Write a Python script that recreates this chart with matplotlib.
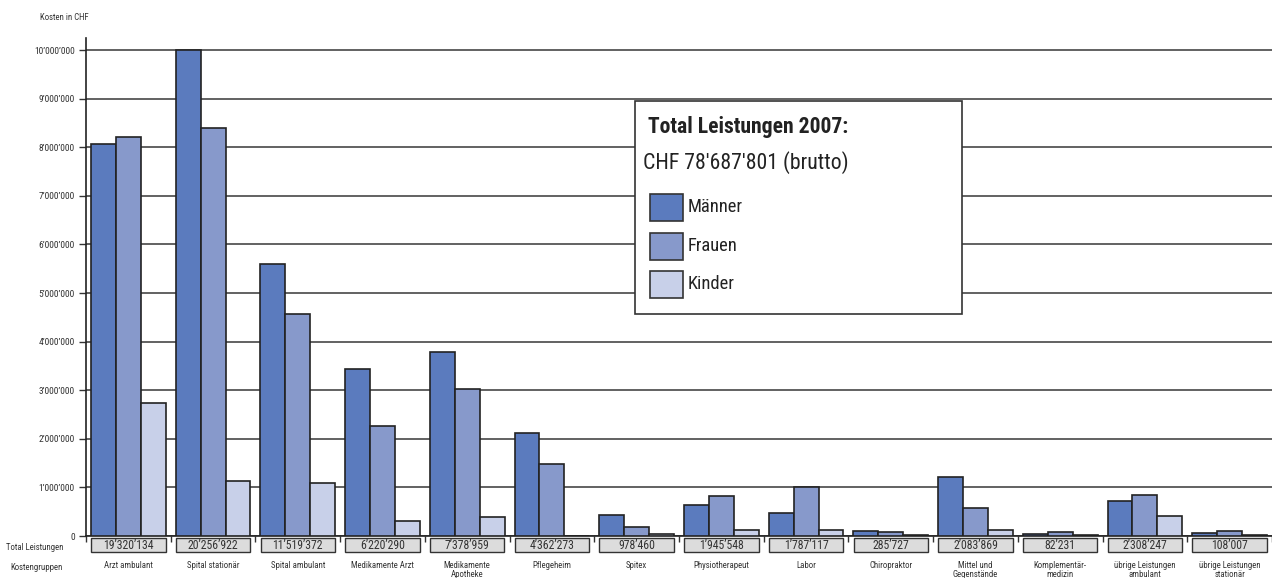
import matplotlib
matplotlib.use("Agg")
import matplotlib.pyplot as plt
import numpy as np
from matplotlib import font_manager
from matplotlib.patches import Rectangle
from matplotlib.ticker import FuncFormatter, MultipleLocator
import matplotlib.transforms as mtransforms

# data (CHF)
kategorien = ["Arzt ambulant", "Spital stationär", "Spital ambulant", "Medikamente Arzt",
              "Medikamente\nApotheke", "Pflegeheim", "Spitex", "Physiotherapeut", "Labor",
              "Chiropraktor", "Mittel und\nGegenstände", "Komplementär-\nmedizin",
              "übrige Leistungen\nambulant", "übrige Leistungen\nstationär"]
maenner = [8.07e6, 10.01e6, 5.60e6, 3.43e6, 3.79e6, 2.13e6, 0.43e6, 0.64e6, 0.47e6,
           0.10e6, 1.21e6, 0.05e6, 0.73e6, 0.06e6]
frauen = [8.21e6, 8.40e6, 4.56e6, 2.26e6, 3.02e6, 1.49e6, 0.18e6, 0.83e6, 1.00e6,
          0.08e6, 0.57e6, 0.09e6, 0.84e6, 0.10e6]
kinder = [2.74e6, 1.13e6, 1.10e6, 0.30e6, 0.39e6, 0.005e6, 0.05e6, 0.13e6, 0.125e6,
          0.03e6, 0.125e6, 0.015e6, 0.41e6, 0.015e6]
totale = ["19’320’134", "20’256’922", "11’519’372", "6’220’290", "7’378’959", "4’362’273",
          "978’460", "1’945’548", "1’787’117", "285’727", "2’083’869", "82’231",
          "2’308’247", "108’007"]
serien = ["Männer", "Frauen", "Kinder"]
farben = ["#5b7bbe", "#8799cb", "#c8d0e9"]

# a narrow face if one is around, the reference uses a condensed font
names = {f.name for f in font_manager.fontManager.ttflist}
narrow = [n for n in ["Liberation Sans Narrow", "Roboto Condensed", "Open Sans Condensed",
                      "Noto Sans Condensed", "DejaVu Sans"] if n in names]
plt.rcParams["font.family"] = narrow + ["DejaVu Sans"]
plt.rcParams["font.stretch"] = "condensed"

W, H = 1272, 578
fig = plt.figure(figsize=(W / 100, H / 100), dpi=100)
renderer = fig.canvas.get_renderer()

def fx(x):
    return x / W

def fy(y):
    return 1 - y / H

def size_for(s, target_w, cap_pt, weight="normal"):
    # font size that gives the text the width it has in the reference
    t = fig.text(0, 0, s, fontsize=10, fontweight=weight)
    w = t.get_window_extent(renderer).width
    t.remove()
    return min(cap_pt, 10 * target_w / w)

fs_ytick = 6.8
fs_cat = 6.3
fs_total = size_for("19’320’134", 52, 8.5)
fs_title = size_for("Total Leistungen 2007:", 200, 17, "bold")
fs_sub = size_for("CHF 78′687′801 (brutto)", 204, 17)
fs_leg = size_for("Männer", 55, 15)

ax = fig.add_axes([fx(86), fy(536), fx(1272) - fx(86), fy(38) - fy(536)])

x = np.arange(len(kategorien))
bw = 25 / 85
for i, (vals, col, lab) in enumerate(zip([maenner, frauen, kinder], farben, serien)):
    ax.bar(x + (i - 1) * bw, vals, width=bw, color=col, edgecolor="#222222",
           linewidth=1.2, label=lab, zorder=3)

ax.set_xlim(-42 / 85, -42 / 85 + 1186 / 85)
ax.set_ylim(0, 10.25e6)
ax.yaxis.set_major_locator(MultipleLocator(1e6))
ax.yaxis.set_major_formatter(FuncFormatter(lambda v, p: f"{int(round(v)):,}".replace(",", "’")))
ax.yaxis.grid(True, color="#555555", linewidth=1.3)
ax.set_axisbelow(True)
ax.tick_params(axis="y", length=5, width=1, color="#333333", labelsize=fs_ytick,
               labelcolor="#333333", pad=3)
ax.set_xticks(np.arange(-0.5, len(kategorien), 1))
ax.set_xticklabels([])
ax.tick_params(axis="x", length=4, width=1, color="#333333", direction="out")
for s in ["top", "right"]:
    ax.spines[s].set_visible(False)
for s in ["left", "bottom"]:
    ax.spines[s].set_linewidth(1.2)
    ax.spines[s].set_color("#222222")

# boxes with the totals under each group
trans = mtransforms.blended_transform_factory(ax.transData, ax.transAxes)
for xi, t in zip(x, totale):
    ax.add_patch(Rectangle((xi - 0.44, -0.033), 0.88, 0.029, transform=trans,
                           facecolor="#dcdcdc", edgecolor="#333333", linewidth=1,
                           clip_on=False, zorder=4))
    ax.text(xi, -0.0185, t, transform=trans, ha="center", va="center",
            fontsize=fs_total, color="#333333", zorder=5)

cat_trans = mtransforms.blended_transform_factory(ax.transData, fig.transFigure)
for xi, k in zip(x, kategorien):
    ax.text(xi, fy(561), k, transform=cat_trans, ha="center", va="top",
            fontsize=fs_cat, color="#333333", linespacing=1.0)

fig.text(fx(6), fy(547), "Total Leistungen", fontsize=fs_cat, color="#333333", va="center")
fig.text(fx(10), fy(567), "Kostengruppen", fontsize=fs_cat, color="#333333", va="center")
fig.text(fx(40), fy(18), "Kosten in CHF", fontsize=fs_cat, color="#333333", va="center")

# legend panel
fig.add_artist(Rectangle((fx(635), fy(314)), fx(962) - fx(635), fy(101) - fy(314),
                         transform=fig.transFigure, facecolor="white",
                         edgecolor="#333333", linewidth=1.2, zorder=5))
fig.text(fx(648), fy(133), "Total Leistungen 2007:", fontsize=fs_title, fontweight="bold",
         color="#222222", va="baseline", zorder=6)
fig.text(fx(643), fy(169), "CHF 78′687′801 (brutto)", fontsize=fs_sub,
         color="#222222", va="baseline", zorder=6)
for j, (c, lab) in enumerate(zip(farben, serien)):
    top = 194 + j * 38.5
    fig.add_artist(Rectangle((fx(650), fy(top + 27)), fx(683) - fx(650), fy(top) - fy(top + 27),
                             transform=fig.transFigure, facecolor=c, edgecolor="#333333",
                             linewidth=1.2, zorder=6))
    fig.text(fx(688), fy(top + 13.5), lab, fontsize=fs_leg, color="#222222",
             va="center", zorder=6)

fig.savefig("out.png", dpi=100)
